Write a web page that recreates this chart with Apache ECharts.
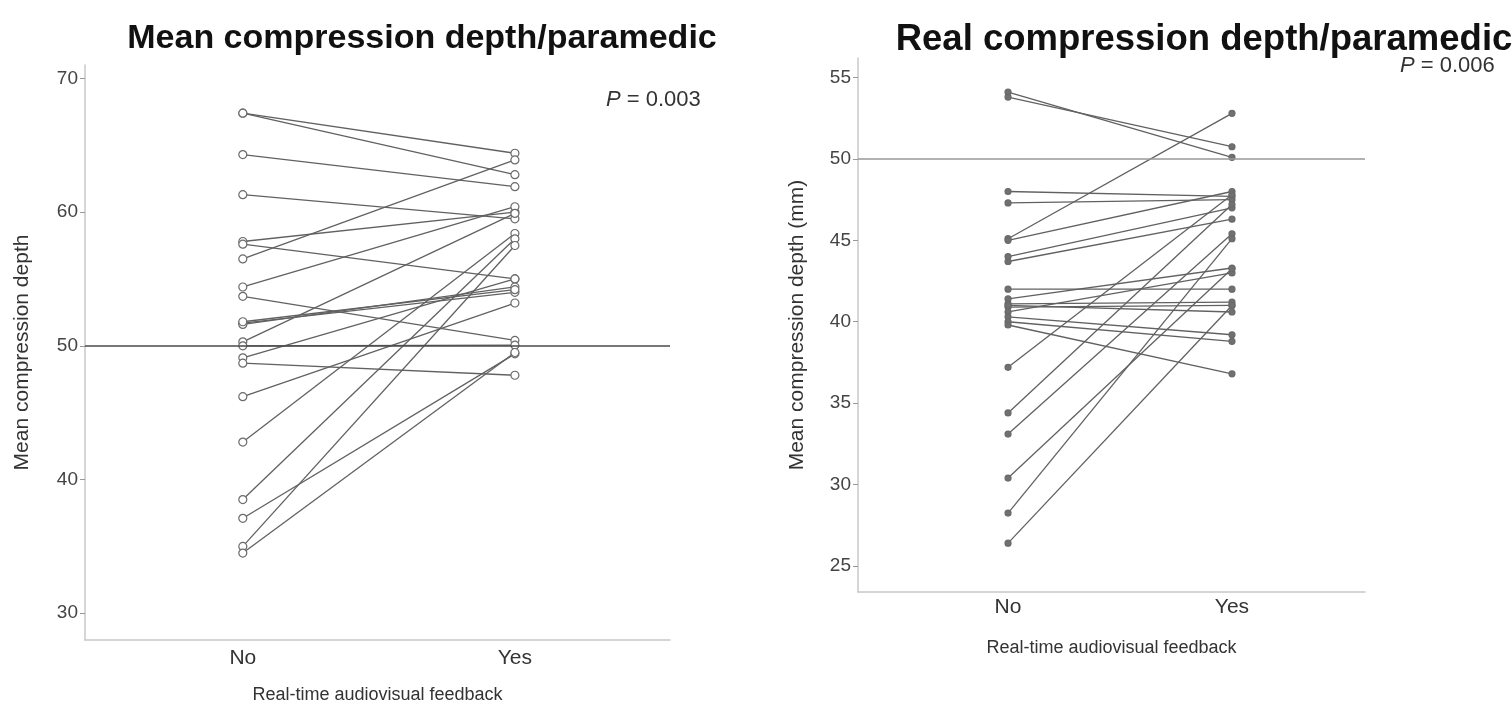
<!DOCTYPE html>
<html>
<head>
<meta charset="utf-8">
<script src="https://cdn.jsdelivr.net/npm/echarts@6/dist/echarts.min.js"></script>
<style>html,body{margin:0;padding:0;background:#fff}#c{width:1512px;height:708px}</style>
</head>
<body>
<div id="c"></div>
<script>
// Left panel: Mean compression depth per paramedic
var leftNo  = [67.4, 67.4, 64.3, 61.3, 57.8, 57.6, 56.5, 54.4, 53.7, 51.7, 51.6, 51.8, 50.3, 50.0, 49.1, 48.7, 46.2, 42.8, 38.5, 37.1, 35.0, 34.5];
var leftYes = [64.4, 62.8, 61.9, 59.5, 60.0, 55.0, 63.9, 60.4, 50.4, 54.0, 54.4, 54.2, 59.9, 50.05, 55.0, 47.8, 53.2, 58.4, 58.0, 49.4, 57.5, 49.5];
// Right panel: Real compression depth per paramedic (mm)
var rightNo  = [54.1, 53.8, 48.0, 47.3, 45.1, 45.0, 44.0, 43.7, 42.0, 41.4, 41.1, 40.9, 40.6, 40.3, 40.0, 39.8, 41.0, 37.2, 34.4, 33.1, 30.4, 28.25, 26.4];
var rightYes = [50.1, 50.75, 47.7, 47.5, 52.8, 48.0, 47.0, 46.3, 42.0, 43.3, 41.2, 41.0, 43.0, 39.2, 38.8, 36.8, 40.6, 47.8, 47.2, 45.4, 43.25, 45.1, 41.0];
var xCategories = ['No', 'Yes'];
var leftTicks = [30, 40, 50, 60, 70];
var rightTicks = [25, 30, 35, 40, 45, 50, 55];
var refValue = 50;

var FONT = 'Liberation Sans, Arial, sans-serif';
var chart = echarts.init(document.getElementById('c'));

var series = [];
function addPanel(noArr, yesArr, idx, sym, symSize, fillColor, refColor) {
  for (var i = 0; i < noArr.length; i++) {
    series.push({
      type: 'line', xAxisIndex: idx, yAxisIndex: idx,
      data: [[0, noArr[i]], [1, yesArr[i]]],
      symbol: sym, symbolSize: symSize, showSymbol: true,
      lineStyle: {color: '#616161', width: 1.3},
      itemStyle: {color: fillColor, borderColor: '#6a6a6a', borderWidth: 1.2},
      emphasis: {disabled: true}, animation: false, z: 3
    });
  }
  series.push({
    type: 'line', xAxisIndex: idx, yAxisIndex: idx, data: [], animation: false,
    markLine: {silent: true, symbol: 'none', label: {show: false},
      lineStyle: {color: refColor, width: 1.5, type: 'solid'},
      data: [{yAxis: refValue}]}
  });
}
addPanel(leftNo, leftYes, 0, 'circle', 8, '#ffffff', '#4a4a4a');
addPanel(rightNo, rightYes, 1, 'circle', 6, '#707070', '#999999');

function xAxis(idx, min, max, margin, gap) {
  return {
    type: 'value', gridIndex: idx, min: min, max: max,
    name: 'Real-time audiovisual feedback', nameLocation: 'middle', nameGap: gap,
    nameTextStyle: {fontFamily: FONT, fontSize: 18, color: '#333'},
    axisLine: {show: true, onZero: false, lineStyle: {color: '#c8c8c8', width: 1.5}},
    axisTick: {show: false},
    splitLine: {show: false},
    axisLabel: {customValues: [0, 1], formatter: function (v) { return xCategories[Math.round(v)]; },
      fontFamily: FONT, fontSize: 21, color: '#333', margin: margin}
  };
}
function yAxis(idx, min, max, ticks, name, gap) {
  return {
    type: 'value', gridIndex: idx, min: min, max: max,
    name: name, nameLocation: 'middle', nameGap: gap,
    nameTextStyle: {fontFamily: FONT, fontSize: 21, color: '#333'},
    axisLine: {show: true, onZero: false, lineStyle: {color: '#c8c8c8', width: 1.5}},
    axisTick: {show: true, customValues: ticks, length: 5, lineStyle: {color: '#999'}},
    splitLine: {show: false},
    axisLabel: {customValues: ticks, fontFamily: FONT, fontSize: 19, color: '#444', margin: 7}
  };
}
var pStyle = {fontFamily: FONT, fontSize: 22, fontWeight: 'normal', color: '#333',
  rich: {i: {fontFamily: FONT, fontSize: 22, fontStyle: 'italic', fontWeight: 'normal', color: '#333'}}};

chart.setOption({
  animation: false,
  title: [
    {text: 'Mean compression depth/paramedic', left: 417, top: 17, textAlign: 'center',
     textStyle: {fontFamily: FONT, fontSize: 34, fontWeight: 'bold', color: '#111'}},
    {text: 'Real compression depth/paramedic', left: 1199, top: 16, textAlign: 'center',
     textStyle: {fontFamily: FONT, fontSize: 36.5, fontWeight: 'bold', color: '#111'}},
    {text: '{i|P} = 0.003', left: 606, top: 89, padding: 0, textStyle: pStyle},
    {text: '{i|P} = 0.006', left: 1400, top: 55, padding: 0, textStyle: pStyle}
  ],
  grid: [
    {left: 85, right: 842, top: 65, bottom: 68, outerBoundsMode: 'none'},
    {left: 858, right: 147, top: 58, bottom: 116, outerBoundsMode: 'none'}
  ],
  xAxis: [xAxis(0, -0.58, 1.57, 8, 46), xAxis(1, -0.67, 1.594, 5, 47)],
  yAxis: [yAxis(0, 28, 71, leftTicks, 'Mean compression depth', 52),
          yAxis(1, 23.4, 56.2, rightTicks, 'Mean compression depth (mm)', 50)],
  series: series
});
</script>
</body>
</html>
